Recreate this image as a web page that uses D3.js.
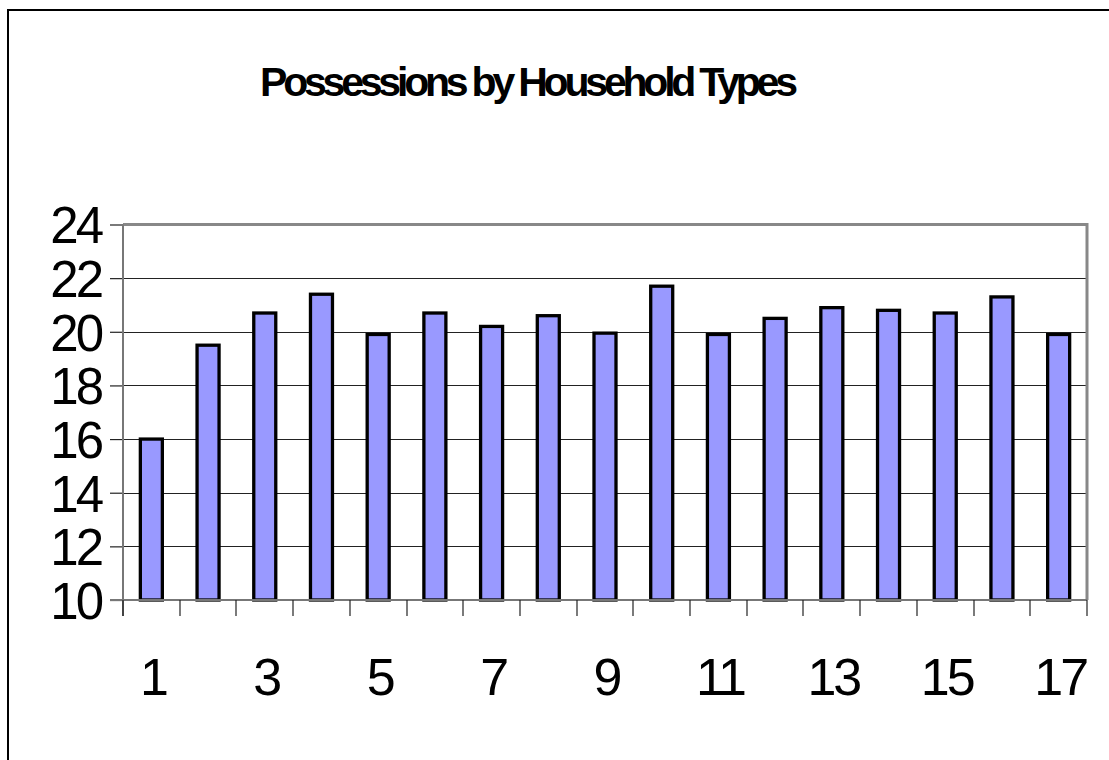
<!DOCTYPE html>
<html><head><meta charset="utf-8">
<script src="https://cdn.jsdelivr.net/npm/d3@7/dist/d3.min.js"></script>
<style>html,body{margin:0;padding:0;background:#fff;}svg{display:block;}</style>
</head><body><svg id="c" width="1109" height="760"></svg>
<script>
const title = "Possessions by Household Types";
const categories = ["1","2","3","4","5","6","7","8","9","10","11","12","13","14","15","16","17"];
const values = [16.0,19.5,20.7,21.4,19.9,20.7,20.2,20.6,19.95,21.7,19.9,20.5,20.9,20.8,20.7,21.3,19.9];
const yTicks = [10,12,14,16,18,20,22,24];
const xTickLabels = ["1","3","5","7","9","11","13","15","17"];

const svg = d3.select("#c");
const L = 123, R = 1087, T = 224.5, B = 600;
const x = d3.scaleBand().domain(categories).range([L, R]).paddingInner(0).paddingOuter(0);
const y = d3.scaleLinear().domain([10, 24]).range([B, T]);

// outer frame
svg.append("path").attr("d", `M8,760 L8,10 L1109,10`).attr("fill","none").attr("stroke","#000").attr("stroke-width",2);

// title
const tt = svg.append("text").attr("x", 260).attr("y", 96)
  .attr("font-family","Liberation Sans, Arial, sans-serif").attr("font-weight","bold")
  .attr("font-size", 41).attr("fill","#000").text(title);
tt.attr("textLength", 538).attr("lengthAdjust","spacing");

// gridlines
svg.append("g").selectAll("line").data(yTicks.filter(d => d !== 24 && d !== 10)).join("line")
  .attr("x1", L).attr("x2", R).attr("y1", d => Math.round(y(d)) + 0.5).attr("y2", d => Math.round(y(d)) + 0.5)
  .attr("stroke", "#222").attr("stroke-width", 1.2);

// plot border top/right
svg.append("path").attr("d", `M${L},${y(24)} L${R},${y(24)} L${R},${B}`).attr("fill","none")
  .attr("stroke","#888").attr("stroke-width",3);

// bars
const bw = 22;
svg.append("g").selectAll("rect").data(values).join("rect")
  .attr("x", (d,i) => x(categories[i]) + x.bandwidth()/2 - bw/2)
  .attr("width", bw)
  .attr("y", d => y(d))
  .attr("height", d => y(10) - y(d))
  .attr("fill", "#9999FF").attr("stroke", "#000").attr("stroke-width", 3.3);

// y axis
const yAxis = d3.axisLeft(y).tickValues(yTicks).tickSize(13).tickPadding(10).tickFormat(d3.format("d"));
const gy = svg.append("g").attr("transform", `translate(${L},0)`).call(yAxis);
gy.select(".domain").remove();
gy.selectAll(".tick line").attr("stroke","#222").attr("stroke-width",1.2);
gy.selectAll(".tick text").attr("font-family","Liberation Sans, Arial, sans-serif")
  .attr("font-size", 51).attr("letter-spacing", -3).attr("fill","#000")
  .attr("x", -22).attr("dy", "0.36em");
svg.append("line").attr("x1", L).attr("x2", L).attr("y1", y(24)).attr("y2", B + 16)
  .attr("stroke","#777").attr("stroke-width",2);

// x axis
svg.append("line").attr("x1", L - 13).attr("x2", R).attr("y1", B).attr("y2", B)
  .attr("stroke","#777").attr("stroke-width",2);
const bounds = categories.map(c => x(c)).concat([R]);
svg.append("g").selectAll("line").data(bounds).join("line")
  .attr("x1", d => Math.round(d)).attr("x2", d => Math.round(d)).attr("y1", B).attr("y2", B + 16)
  .attr("stroke","#222").attr("stroke-width",1.2);
const xAxis = d3.axisBottom(x).tickValues(xTickLabels).tickSize(0).tickPadding(0);
const gx = svg.append("g").attr("transform", `translate(0,${B})`).call(xAxis);
gx.select(".domain").remove();
gx.selectAll(".tick text").attr("font-family","Liberation Sans, Arial, sans-serif")
  .attr("font-size", 52).attr("letter-spacing", -3).attr("fill","#000")
  .attr("y", 95).attr("dy", 0).attr("dx", 1.5);
</script></body></html>
